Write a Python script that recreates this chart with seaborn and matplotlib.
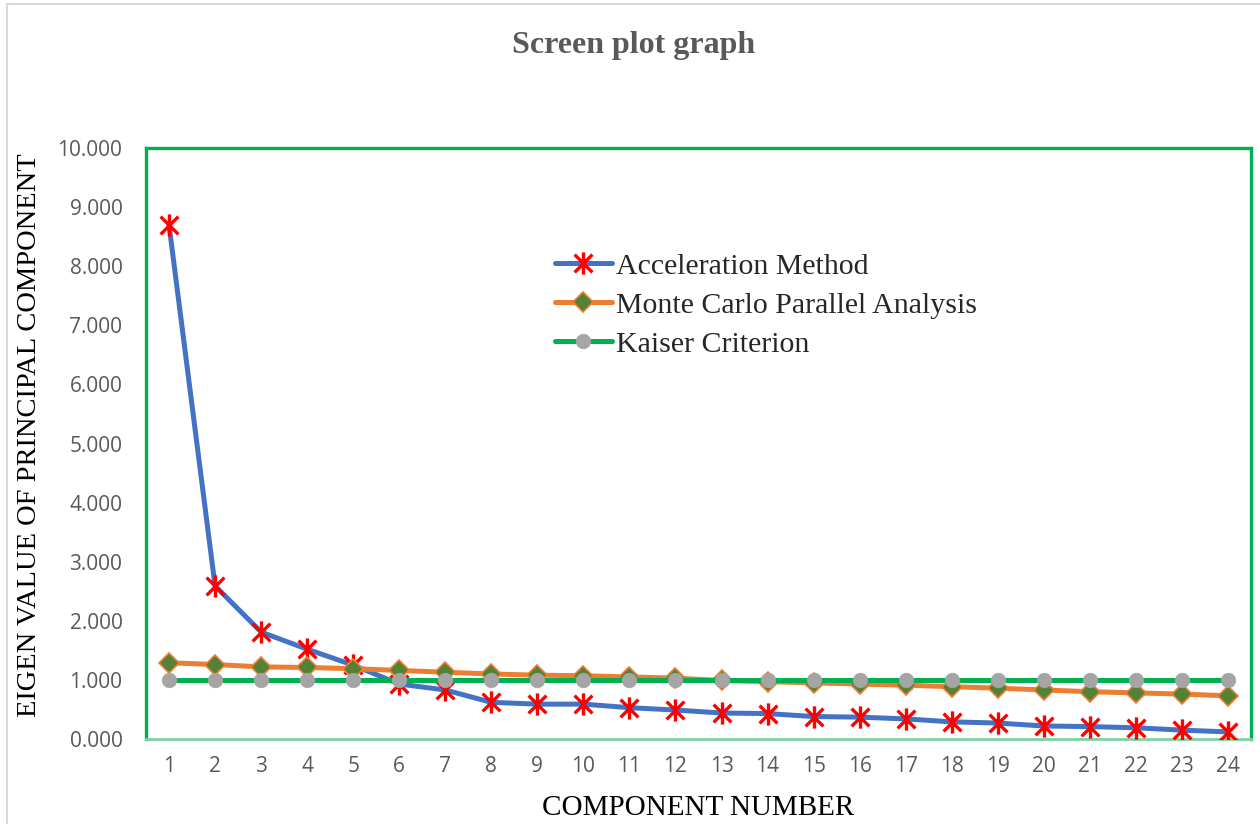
import numpy as np
import pandas as pd
import matplotlib
matplotlib.use("Agg")
import matplotlib.pyplot as plt
from matplotlib.path import Path
from matplotlib.patches import Rectangle
import seaborn as sns

# ---- data -------------------------------------------------------------
components = list(range(1, 25))
acceleration = [8.70, 2.59, 1.81, 1.52, 1.25, 0.93, 0.83, 0.62, 0.59, 0.59,
                0.53, 0.49, 0.44, 0.43, 0.38, 0.37, 0.34, 0.29, 0.27, 0.22,
                0.21, 0.19, 0.15, 0.12]
monte_carlo = [1.29, 1.26, 1.22, 1.21, 1.19, 1.16, 1.13, 1.10, 1.08, 1.07,
               1.05, 1.03, 0.99, 0.97, 0.95, 0.93, 0.91, 0.885, 0.86, 0.83,
               0.80, 0.78, 0.76, 0.73]
kaiser = [1.0] * 24
y_ticks = [0, 1, 2, 3, 4, 5, 6, 7, 8, 9, 10]

series_names = ["Acceleration Method", "Monte Carlo Parallel Analysis",
                "Kaiser Criterion"]

# ---- style ------------------------------------------------------------
sns.set_theme(style="white")
plt.rcParams["font.family"] = ["DejaVu Sans"]

BLUE = "#4472C4"
ORANGE = "#ED7D31"
GREEN = "#00B050"
RED = "#FF0000"
DARK_GREEN = "#548235"
GREY = "#A5A5A5"
TEXT_GREY = "#595959"

# six-armed asterisk: vertical bar plus an X
star = Path([(0, -1), (0, 1), (-0.8, -0.8), (0.8, 0.8), (-0.8, 0.8), (0.8, -0.8)],
            [Path.MOVETO, Path.LINETO, Path.MOVETO, Path.LINETO, Path.MOVETO, Path.LINETO])

fig = plt.figure(figsize=(12.6, 8.24), dpi=100)
ax = fig.add_axes([146 / 1260, 85 / 824, 1105 / 1260, 591 / 824])

df = pd.DataFrame({"component": components, "accel": acceleration,
                   "mc": monte_carlo, "kaiser": kaiser})

sns.lineplot(data=df, x="component", y="accel", ax=ax, color=BLUE, lw=3.6,
             marker=star, markersize=16, markeredgecolor=RED, markerfacecolor=RED,
             markeredgewidth=2.4, label=series_names[0], zorder=3)
sns.lineplot(data=df, x="component", y="mc", ax=ax, color=ORANGE, lw=3.6,
             marker="D", markersize=10.5, markeredgecolor=ORANGE,
             markerfacecolor=DARK_GREEN, markeredgewidth=1.2,
             label=series_names[1], zorder=4)
sns.lineplot(data=df, x="component", y="kaiser", ax=ax, color=GREEN, lw=3.6,
             marker="o", markersize=10.5, markeredgecolor=GREY,
             markerfacecolor=GREY, markeredgewidth=0.5,
             label=series_names[2], zorder=5)

# ---- axes -------------------------------------------------------------
ax.set_xlim(0.5, 24.5)
ax.set_ylim(0, 10)
ax.set_xticks(components)
ax.set_xticklabels([str(c) for c in components])
ax.set_yticks(y_ticks)
ax.set_yticklabels([f"{v:.3f}" for v in y_ticks])
ax.tick_params(axis="both", length=0, labelsize=15, colors=TEXT_GREY)
ax.tick_params(axis="y", pad=17)
ax.tick_params(axis="x", pad=12)
for lbl in ax.get_xticklabels() + ax.get_yticklabels():
    lbl.set_fontfamily("Open Sans")
ax.grid(False)

for side in ["top", "left", "right"]:
    ax.spines[side].set_color(GREEN)
    ax.spines[side].set_linewidth(2.4)
    ax.spines[side].set_visible(True)
ax.spines["bottom"].set_color("#7DD3A0")
ax.spines["bottom"].set_linewidth(2.0)

ax.set_xlabel("COMPONENT NUMBER", fontsize=21, family="Liberation Serif",
              color="black")
ax.xaxis.set_label_coords(0.5, -(808 - 739) / 591)
ax.xaxis.label.set_va("center")
ax.set_ylabel("EIGEN VALUE OF PRINCIPAL COMPONENT", fontsize=20.5,
              family="Liberation Serif", color="black")
ax.yaxis.set_label_coords(-(146 - 30) / 1105, (739 - 435) / 591)
ax.yaxis.label.set_va("center")

fig.text(634 / 1260, 1 - 45 / 824, "Screen plot graph", ha="center", va="center",
         fontsize=23, fontweight="bold", family="Liberation Serif", color=TEXT_GREY)

leg = ax.legend(loc="upper left", bbox_to_anchor=(555 / 1260, 1 - 253 / 824),
                bbox_transform=fig.transFigure, frameon=False,
                prop={"family": "Liberation Serif", "size": 21.5},
                handlelength=1.9, handletextpad=0.15, labelspacing=0.4,
                borderpad=0, borderaxespad=0)

# chart-area outline
fig.patches.append(Rectangle((7 / 1260, -0.1), 1.0, (820 / 824) + 0.1,
                             transform=fig.transFigure, fill=False,
                             edgecolor="#D9D9D9", lw=1.5))

fig.savefig("out.png", dpi=100, facecolor="white")
